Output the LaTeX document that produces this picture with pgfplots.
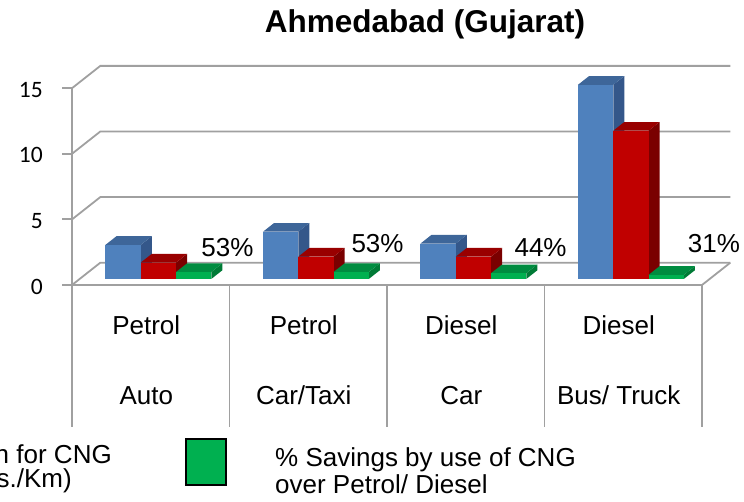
\documentclass[border=0pt]{standalone}
\usepackage{pgfplots}
\pgfplotsset{compat=1.18}
\usepackage{fontspec}
\setmainfont{Liberation Sans}
\newfontfamily\calibri{Carlito}
\definecolor{bluefront}{HTML}{4F81BD}
\definecolor{bluetop}{HTML}{3E6699}
\definecolor{blueside}{HTML}{34578A}
\definecolor{redfront}{HTML}{C00000}
\definecolor{redtop}{HTML}{990000}
\definecolor{redside}{HTML}{7A0000}
\definecolor{greenfront}{HTML}{00B050}
\definecolor{greentop}{HTML}{008C40}
\definecolor{greenside}{HTML}{007A36}
\definecolor{gridgray}{RGB}{160,160,160}
% one 3D column: #1 left x, #2 right x, #3 value, #4 front, #5 top, #6 side
\newcommand{\cbar}[6]{%
  \addplot3[fill=#6,draw=none,forget plot] coordinates {(#2,0.27,0) (#2,0.66,0) (#2,0.66,#3) (#2,0.27,#3)};
  \addplot3[fill=#5,draw=none,forget plot] coordinates {(#1,0.27,#3) (#2,0.27,#3) (#2,0.66,#3) (#1,0.66,#3)};
  \addplot3[fill=#4,draw=none,forget plot] coordinates {(#1,0.27,0) (#2,0.27,0) (#2,0.27,#3) (#1,0.27,#3)};
}
\begin{document}
\begin{tikzpicture}
\begin{axis}[
  x={(157.5pt,0pt)}, y={(28.3pt,22.3pt)}, z={(0pt,13.12pt)},
  xmin=0, xmax=4, ymin=0, ymax=1, zmin=0, zmax=15,
  hide axis, clip=false,
]
\coordinate (O) at (axis cs:0,0,0);
% walls and grid
\foreach \zz in {0,5,10,15} {
  \edef\temp{\noexpand\draw[gridgray, line width=1.8pt] (axis cs:0,0,\zz) -- (axis cs:0,1,\zz) -- (axis cs:4,1,\zz);
    \noexpand\draw[gridgray, line width=1.8pt] (axis cs:0,0,\zz) -- ++(-10pt,0pt);
    \noexpand\node[anchor=east, inner sep=0pt, font=\noexpand\calibri\noexpand\fontsize{23.5}{26}\noexpand\selectfont, xshift=-29pt, yshift=-1.5pt] at (axis cs:0,0,\zz) {\zz};}
  \temp
}
\draw[gridgray, line width=1.8pt] (axis cs:0,0,15) -- (axis cs:0,0,0) -- ++(0pt,-142pt);
\draw[gridgray, line width=1.8pt] (axis cs:0,0,0) -- (axis cs:4,0,0) -- (axis cs:4,1,0);
\foreach \i in {1,2,3,4} {
  \edef\temp{\noexpand\draw[gridgray, line width=1.8pt] (axis cs:\i,0,0) -- ++(0pt,-142pt);}
  \temp
}
% bars: Petrol/Diesel (blue), CNG (red), % savings (green)
\cbar{0.164}{0.388}{2.6}{bluefront}{bluetop}{blueside}
\cbar{0.388}{0.612}{1.25}{redfront}{redtop}{redside}
\cbar{0.612}{0.836}{0.53}{greenfront}{greentop}{greenside}
\cbar{1.164}{1.388}{3.6}{bluefront}{bluetop}{blueside}
\cbar{1.388}{1.612}{1.7}{redfront}{redtop}{redside}
\cbar{1.612}{1.836}{0.53}{greenfront}{greentop}{greenside}
\cbar{2.164}{2.388}{2.7}{bluefront}{bluetop}{blueside}
\cbar{2.388}{2.612}{1.7}{redfront}{redtop}{redside}
\cbar{2.612}{2.836}{0.44}{greenfront}{greentop}{greenside}
\cbar{3.164}{3.388}{14.8}{bluefront}{bluetop}{blueside}
\cbar{3.388}{3.612}{11.3}{redfront}{redtop}{redside}
\cbar{3.612}{3.836}{0.31}{greenfront}{greentop}{greenside}
% data labels
\begin{scope}[every node/.style={anchor=base, inner sep=0pt, font=\fontsize{26}{29}\selectfont}]
\node[yshift=28.3pt] at (axis cs:0.987,0,0) {53\%};
\node[yshift=32.3pt] at (axis cs:1.940,0,0) {53\%};
\node[yshift=28.3pt] at (axis cs:2.975,0,0) {44\%};
\node[yshift=32.3pt] at (axis cs:4.076,0,0) {31\%};
% category labels
\node[xshift=-4.5pt, yshift=-50pt] at (axis cs:0.5,0,0) {Petrol};
\node[xshift=-4.5pt, yshift=-50pt] at (axis cs:1.5,0,0) {Petrol};
\node[xshift=-4.5pt, yshift=-50pt] at (axis cs:2.5,0,0) {Diesel};
\node[xshift=-4.5pt, yshift=-50pt] at (axis cs:3.5,0,0) {Diesel};
\node[xshift=-4.5pt, yshift=-120pt] at (axis cs:0.5,0,0) {Auto};
\node[xshift=-4.5pt, yshift=-120pt] at (axis cs:1.5,0,0) {Car/Taxi};
\node[xshift=-4.5pt, yshift=-120pt] at (axis cs:2.5,0,0) {Car};
\node[xshift=-4.5pt, yshift=-120pt] at (axis cs:3.5,0,0) {Bus/ Truck};
\end{scope}
\end{axis}
% title
\node[anchor=base, inner sep=0pt, font=\bfseries\fontsize{31.5}{35}\selectfont] at ([shift={(353pt,252pt)}]O) {Ahmedabad (Gujarat)};
% legend (partly outside the visible area, as in the reference)
\begin{scope}[every node/.style={inner sep=0pt, font=\fontsize{26}{29}\selectfont}]
\node[anchor=base east] at ([shift={(40pt,-178.3pt)}]O) {Cost of Operation for CNG};
\node[anchor=base east] at ([shift={(0pt,-203pt)}]O) {(Rs./Km)};
\filldraw[fill=greenfront, draw=black, line width=2pt] ([shift={(114pt,-154pt)}]O) rectangle ([shift={(154pt,-200pt)}]O);
\node[anchor=base west] at ([shift={(203pt,-181.7pt)}]O) {\% Savings by use of CNG};
\node[anchor=base west] at ([shift={(203pt,-208.3pt)}]O) {over Petrol/ Diesel};
\end{scope}
\pgfresetboundingbox
\useasboundingbox ([shift={(-72pt,-217pt)}]O) rectangle ([shift={(672pt,285pt)}]O);
\end{tikzpicture}
\end{document}
